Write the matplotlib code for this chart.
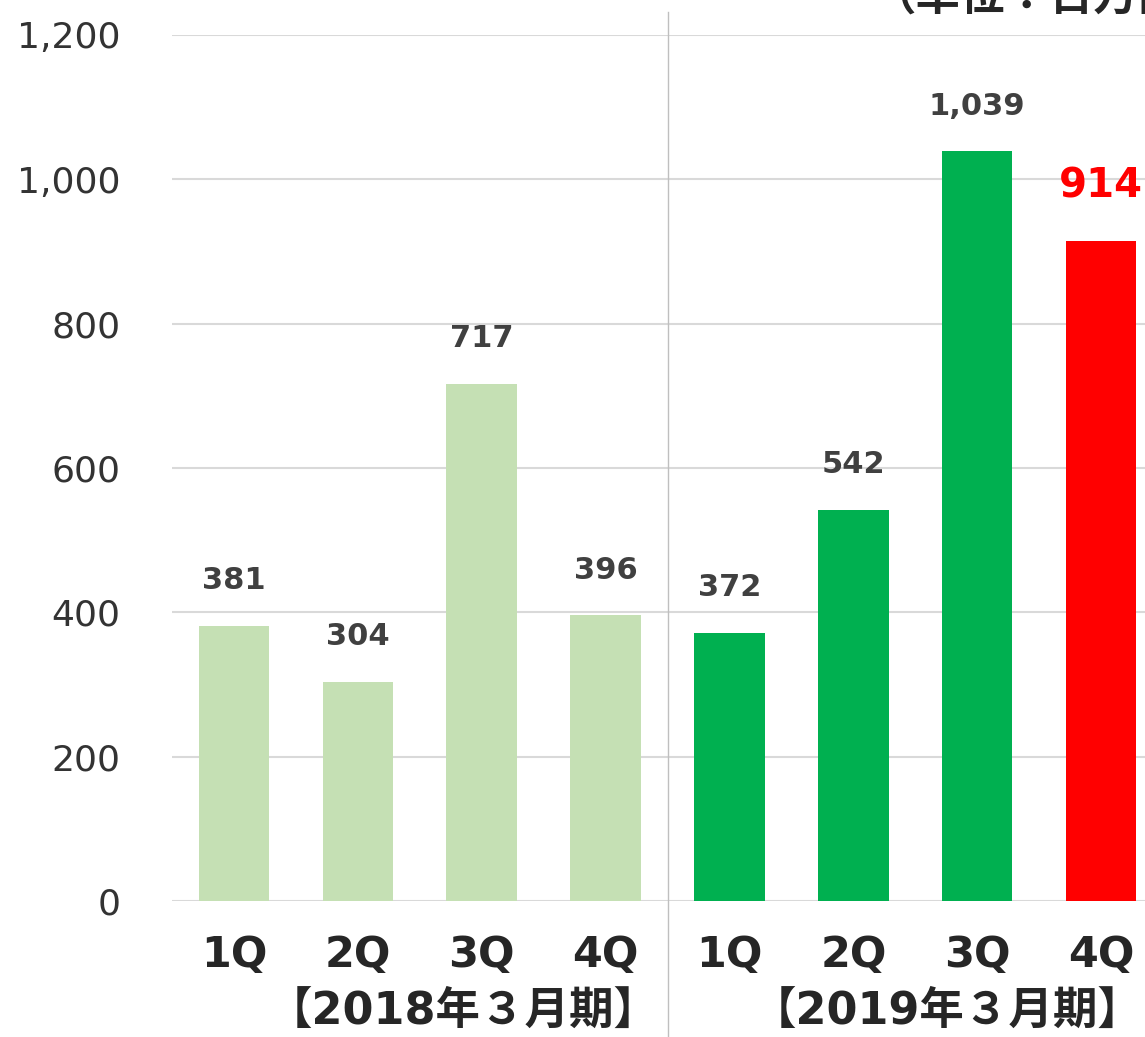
import matplotlib
matplotlib.use("Agg")
import matplotlib.pyplot as plt

quarters = ["1Q", "2Q", "3Q", "4Q", "1Q", "2Q", "3Q", "4Q"]
values = [381, 304, 717, 396, 372, 542, 1039, 914]
periods = ["【2018年３月期】", "【2019年３月期】"]
unit_label = "（単位：百万円）"
yticks = [0, 200, 400, 600, 800, 1000, 1200]
colors = ["#C5E0B4"] * 4 + ["#00B050"] * 3 + ["#FF0000"]

W, H = 1145, 1037
fig = plt.figure(figsize=(W / 100, H / 100), dpi=100)
ax = fig.add_axes([172 / W, 136 / H, (1163 - 172) / W, 866 / H])

x = list(range(len(values)))
ax.bar(x, values, width=0.57, color=colors, zorder=3)
ax.set_xlim(-0.5, 7.5)
ax.set_ylim(0, 1200)
ax.set_yticks(yticks)
ax.set_yticklabels([f"{v:,}" for v in yticks], fontsize=26, color="#333333",
                   family="DejaVu Sans")
ax.tick_params(axis="y", length=0, pad=37)
ax.set_xticks(x)
ax.set_xticklabels(quarters, fontsize=31, fontweight="bold", color="#262626",
                   family="DejaVu Sans")
ax.tick_params(axis="x", length=0, pad=24)
for s in ax.spines.values():
    s.set_visible(False)
ax.yaxis.grid(True, color="#D9D9D9", linewidth=1.5, zorder=0)
ax.set_axisbelow(True)

for i, v in enumerate(values):
    if i == len(values) - 1:
        ax.annotate(f"{v:,}", (i, v), xytext=(0, 25), textcoords="offset points",
                    ha="center", va="bottom", fontsize=29, fontweight="bold",
                    color="#FF0000", family="DejaVu Sans")
    else:
        ax.annotate(f"{v:,}", (i, v), xytext=(0, 22), textcoords="offset points",
                    ha="center", va="bottom", fontsize=22, fontweight="bold",
                    color="#404040", family="DejaVu Sans")

# separator
trans = ax.get_xaxis_transform()
ax.plot([3.5, 3.5], [-136 / 866, 889 / 866], transform=trans, color="#BFBFBF",
        linewidth=1, clip_on=False, zorder=1)

# period labels
for cx, lab in zip([1.85, 5.76], periods):
    ax.text(cx, -110 / 866, lab, transform=trans, ha="center", va="center",
            fontsize=32, fontweight="bold", color="#262626",
            family=["DejaVu Sans", "Noto Sans CJK JP"])

fig.text(872 / W, 1 - 10 / H, unit_label, ha="left", va="baseline",
         fontsize=32, fontweight="bold", color="#262626",
         family=["Noto Sans CJK JP", "DejaVu Sans"])

fig.savefig("out.png", dpi=100)
